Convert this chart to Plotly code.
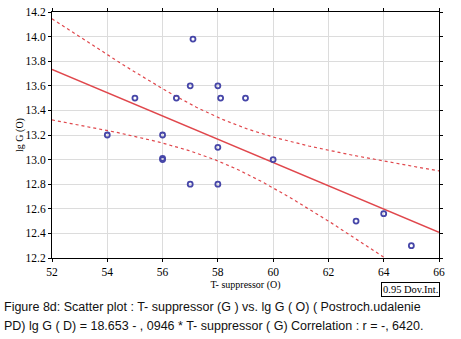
import numpy as np
import plotly.graph_objects as go

# data
t_suppressor = [54, 55, 56, 56.5, 57.1, 57, 58, 58.1, 58, 59, 56, 56, 57, 58, 60, 63, 64, 65]
lg_g = [13.2, 13.5, 13.2, 13.5, 13.98, 13.6, 13.6, 13.5, 13.1, 13.5, 13.0, 13.01, 12.8, 12.8, 13.0, 12.5, 12.56, 12.3]
x_ticks = [52, 54, 56, 58, 60, 62, 64, 66]
y_ticks = [12.2, 12.4, 12.6, 12.8, 13.0, 13.2, 13.4, 13.6, 13.8, 14.0, 14.2]
intercept = 18.653
slope = -0.0946
t_crit = 2.12  # t(0.975, n-2)

x = np.array(t_suppressor, dtype=float)
y = np.array(lg_g, dtype=float)
n = len(x)
xs = np.linspace(52, 66, 200)
yhat = intercept + slope * xs
resid = y - (intercept + slope * x)
s = np.sqrt(np.sum(resid ** 2) / (n - 2))
sxx = np.sum((x - x.mean()) ** 2)
half = t_crit * s * np.sqrt(1 / n + (xs - x.mean()) ** 2 / sxx)

red = "#e0474c"
fig = go.Figure()
fig.add_trace(go.Scatter(x=xs, y=yhat + half, mode="lines", line=dict(color=red, width=1.2, dash="dot"), showlegend=False))
fig.add_trace(go.Scatter(x=xs, y=yhat - half, mode="lines", line=dict(color=red, width=1.2, dash="dot"), showlegend=False))
fig.add_trace(go.Scatter(x=xs, y=yhat, mode="lines", line=dict(color=red, width=1.5), showlegend=False))
fig.add_trace(go.Scatter(x=t_suppressor, y=lg_g, mode="markers",
                         marker=dict(symbol="circle-open", size=5, color="#4646a8", line=dict(width=1.8, color="#4646a8")),
                         showlegend=False))

axis_font = dict(family="Liberation Serif", size=11.5, color="black")
fig.update_xaxes(range=[52, 66], tickvals=x_ticks, ticktext=[str(v) for v in x_ticks],
                 showgrid=True, gridcolor="#dcdcdc", gridwidth=1, zeroline=False, automargin=False,
                 showline=True, linecolor="black", linewidth=1, mirror="ticks",
                 ticks="outside", ticklen=3, tickcolor="black", tickfont=axis_font,
                 title=dict(text="T- suppressor (O)", font=dict(family="Liberation Serif", size=10, color="black"), standoff=4))
fig.update_yaxes(range=[12.2, 14.2], tickvals=y_ticks, ticktext=[f"{v:.1f}" for v in y_ticks],
                 showgrid=True, gridcolor="#dcdcdc", gridwidth=1, zeroline=False, automargin=False,
                 showline=True, linecolor="black", linewidth=1, mirror="ticks",
                 ticks="outside", ticklen=3, tickcolor="black", tickfont=axis_font,
                 title=dict(text="lg G (O)", font=dict(family="Liberation Serif", size=10, color="black"), standoff=0))

fig.add_annotation(xref="paper", yref="paper", x=1.003, y=-0.097, xanchor="right", yanchor="top",
                   text="0.95 Dov.Int.", showarrow=False, bordercolor="black", borderwidth=1, borderpad=1,
                   font=dict(family="Liberation Serif", size=10.5, color="black"))
cap_font = dict(family="Liberation Sans", size=12.5, color="#111")
fig.add_annotation(xref="paper", yref="paper", x=-0.129, y=-0.199, xanchor="left", yanchor="middle",
                   text="Figure 8d: Scatter plot : T- suppressor (G ) vs. lg G ( O) ( Postroch.udalenie",
                   showarrow=False, font=cap_font)
fig.add_annotation(xref="paper", yref="paper", x=-0.129, y=-0.276, xanchor="left", yanchor="middle",
                   text="PD) lg G ( D) = 18.653 - , 0946 * T- suppressor ( G) Correlation : r = -, 6420.",
                   showarrow=False, font=cap_font)

fig.update_layout(width=461, height=339, margin=dict(l=52, r=22, t=12, b=81),
                  plot_bgcolor="white", paper_bgcolor="white")
fig.write_html("out.html", config={"displayModeBar": False},
               post_script="document.body.style.margin='0';document.body.style.overflow='hidden';")
